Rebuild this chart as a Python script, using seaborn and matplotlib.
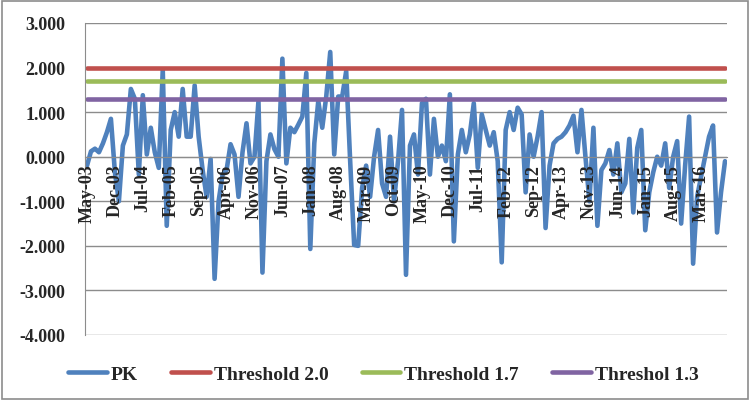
import matplotlib
matplotlib.use('Agg')
import matplotlib.pyplot as plt
import seaborn as sns
import pandas as pd
from matplotlib.patches import Rectangle
from matplotlib.ticker import FuncFormatter

#%% data (monthly, May-03 .. Sep-16)
pk = [-0.20, 0.12, 0.18, 0.10, 0.30, 0.55, 0.85, -0.35, -1.00, 0.25,
      0.50, 1.52, 1.30, -0.40, 1.38, 0.05, 0.65, 0.10, -0.25, 1.95,
      -1.55, 0.60, 1.00, 0.45, 1.52, 0.45, 0.45, 1.60, 0.45, -0.30,
      -0.90, -0.05, -2.74, -1.00, -0.40, -0.30, 0.28, 0.05, -0.90, 0.10,
      0.75, -0.15, 0.00, 1.25, -2.60, -0.10, 0.50, 0.17, 0.00, 2.20,
      -0.15, 0.65, 0.55, 0.72, 0.90, 1.88, -2.07, 0.30, 1.25, 0.65,
      1.35, 2.35, 0.05, 1.35, 1.35, 1.92, -0.10, -1.98, -2.00, -0.70,
      -0.20, -0.90, 0.00, 0.60, -0.60, -0.90, 0.45, -1.00, -0.10, 1.05,
      -2.65, 0.25, 0.50, -0.40, 1.20, 1.30, -0.40, 0.85, 0.00, 0.25,
      -0.10, 1.40, -1.90, 0.05, 0.60, 0.10, 0.50, 1.20, -0.25, 0.95,
      0.60, 0.25, 0.55, -0.10, -2.37, 0.60, 1.00, 0.60, 1.10, 0.95,
      -0.80, 0.50, 0.00, 0.45, 1.00, -1.60, -0.20, 0.30, 0.40, 0.45,
      0.55, 0.70, 0.92, 0.10, 1.05, 0.00, -1.00, 0.65, -1.55, -0.30,
      -0.15, 0.15, -0.40, 0.30, -0.80, -0.60, 0.40, -1.25, 0.20, 0.60,
      -1.65, -0.80, -0.35, 0.00, -0.20, 0.30, -0.70, 0.00, 0.35, -1.50,
      -0.20, 0.90, -2.40, -0.90, -0.45, 0.00, 0.45, 0.70, -1.70, -0.80,
      -0.10]
threshold_labels = ['Threshold 2.0', 'Threshold 1.7', 'Threshol 1.3']
threshold_values = [2.0, 1.7, 1.3]
series_colors = ['#4F81BD', '#C0504D', '#9BBB59', '#8064A2']

months = pd.date_range('2003-05-01', periods=len(pk), freq='MS').strftime('%b-%y')

df = pd.DataFrame({'idx': range(len(pk)), 'PK': pk})
for lab, val in zip(threshold_labels, threshold_values):
    df[lab] = val
long = df.melt('idx', var_name='series', value_name='value')

#%% plot
sns.set_style('white')
plt.rcParams['font.family'] = ['Liberation Serif', 'DejaVu Serif']
plt.rcParams['font.weight'] = 'bold'

fig = plt.figure(figsize=(7.56, 4.06), dpi=100)
ax = fig.add_axes([85/756, 1-336/406, 642/756, 312/406])

sns.lineplot(data=long, x='idx', y='value', hue='series',
             palette=series_colors, linewidth=3.3, ax=ax, legend=False)

ax.set_xlim(-0.5, len(pk) - 0.5)
ax.set_ylim(-4, 3)
ax.spines['bottom'].set_position(('data', 0))  # axis crosses at zero (resets ticks, so do it first)
ax.set_yticks(range(-4, 4))
ax.yaxis.set_major_formatter(FuncFormatter(lambda v, p: f'{v:.3f}'))
ax.grid(axis='y', color='#8c8c8c', linewidth=1)
ax.set_axisbelow(True)
ax.xaxis.set_zorder(5)  # month labels sit on top of the line, like Excel

tick_pos = list(range(0, len(pk), 7))
ax.set_xticks(tick_pos)
ax.set_xticklabels([months[i] for i in tick_pos], rotation=90, va='top', ha='center')
for s in ['top', 'right']:
    ax.spines[s].set_visible(False)
for s in ['left', 'bottom']:
    ax.spines[s].set_color('#8c8c8c')
ax.tick_params(axis='x', length=4, color='#8c8c8c', pad=1, labelsize=13)
ax.tick_params(axis='y', length=0, pad=14, labelsize=13)
ax.set_xlabel('')
ax.set_ylabel('')

handles = [plt.Line2D([], [], color=c, lw=3.3) for c in series_colors]
fig.legend(handles, ['PK'] + threshold_labels, loc='center', ncol=4,
           bbox_to_anchor=(0.507, 0.076), frameon=False, fontsize=14,
           handlelength=2.0, columnspacing=1.7, handletextpad=0.2)

fig.patches.append(Rectangle((2/756, 6/406), 746/756, 398/406, transform=fig.transFigure,
                             fill=False, edgecolor='#8c8c8c', linewidth=1.2))

fig.savefig('out.png', dpi=100)
